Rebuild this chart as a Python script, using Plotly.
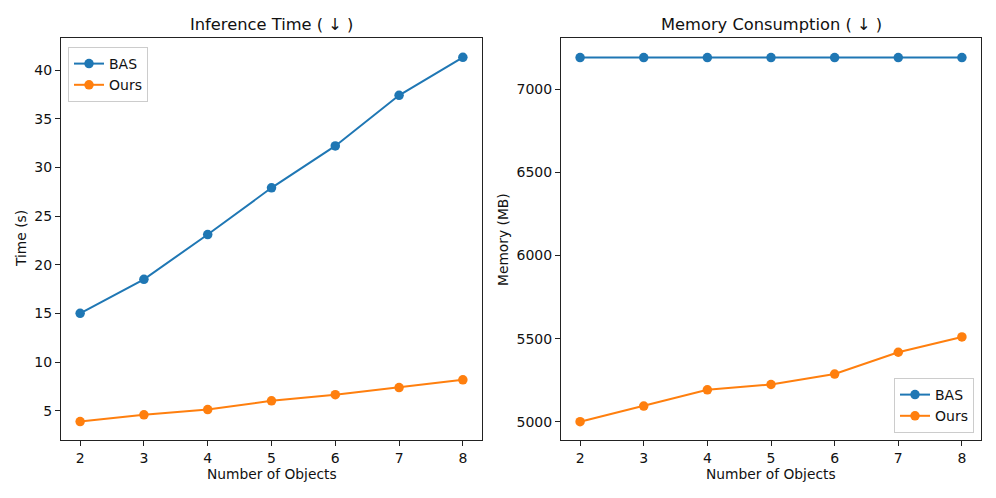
import plotly.graph_objects as go
from plotly.subplots import make_subplots

objects = [2, 3, 4, 5, 6, 7, 8]
time_bas = [15.0, 18.5, 23.1, 27.9, 32.2, 37.4, 41.3]
time_ours = [3.88, 4.58, 5.12, 6.02, 6.65, 7.38, 8.17]
mem_bas = [7191, 7191, 7191, 7191, 7191, 7191, 7191]
mem_ours = [5000, 5094, 5192, 5224, 5287, 5418, 5510]

BLUE = "#1f77b4"
ORANGE = "#ff7f0e"
FONT = "DejaVu Sans, sans-serif"
W, H = 996, 498

fig = make_subplots(rows=1, cols=2)

def add(x, y, name, color, col, legend):
    fig.add_trace(go.Scatter(
        x=x, y=y, name=name, mode="lines+markers",
        line=dict(color=color, width=2),
        marker=dict(color=color, size=9.5),
        legend=legend,
    ), row=1, col=col)

add(objects, time_bas, "BAS", BLUE, 1, "legend")
add(objects, time_ours, "Ours", ORANGE, 1, "legend")
add(objects, mem_bas, "BAS", BLUE, 2, "legend2")
add(objects, mem_ours, "Ours", ORANGE, 2, "legend2")

def px_x(p):
    return p / W

def px_y(p):
    return 1 - p / H

axis_common = dict(
    showline=True, linecolor="#222222", linewidth=1, mirror=True,
    ticks="outside", ticklen=5, tickwidth=1, tickcolor="#222222",
    showgrid=False, zeroline=False, automargin=False,
    tickfont=dict(family=FONT, size=14, color="#111111"),
)

fig.update_xaxes(**axis_common, tickmode="array", tickvals=objects,
                 range=[1.7, 8.3])
fig.update_xaxes(domain=[px_x(61), px_x(482)], row=1, col=1)
fig.update_xaxes(domain=[px_x(561), px_x(981)], row=1, col=2)
fig.update_yaxes(**axis_common)
fig.update_yaxes(domain=[px_y(440), px_y(38)])
fig.update_yaxes(range=[1.99, 43.29], tickvals=[5, 10, 15, 20, 25, 30, 35, 40], row=1, col=1)
fig.update_yaxes(range=[4890, 7309], tickvals=[5000, 5500, 6000, 6500, 7000], row=1, col=2)

annotations = [
    dict(text="Inference Time ( ↓ )", x=px_x(271.5), y=px_y(24), size=16.3),
    dict(text="Memory Consumption ( ↓ )", x=px_x(771), y=px_y(24), size=16.3),
    dict(text="Number of Objects", x=px_x(271.5), y=px_y(474), size=13.8),
    dict(text="Number of Objects", x=px_x(771), y=px_y(474), size=13.8),
    dict(text="Time (s)", x=px_x(21), y=px_y(239), size=13.8, angle=-90),
    dict(text="Memory (MB)", x=px_x(503), y=px_y(239), size=13.8, angle=-90),
]
for a in annotations:
    fig.add_annotation(
        text=a["text"], x=a["x"], y=a["y"], xref="paper", yref="paper",
        xanchor="center", yanchor="middle", showarrow=False,
        textangle=a.get("angle", 0),
        font=dict(family=FONT, size=a["size"], color="#111111"),
    )

legend_common = dict(
    bgcolor="rgba(255,255,255,0.8)", bordercolor="#cccccc", borderwidth=1,
    font=dict(family=FONT, size=14, color="#111111"),
    itemwidth=30, tracegroupgap=0,
)

fig.update_layout(
    width=W, height=H,
    margin=dict(l=0, r=0, t=0, b=0, autoexpand=False),
    paper_bgcolor="white", plot_bgcolor="white",
    font=dict(family=FONT, size=14, color="#111111"),
    legend=dict(**legend_common, x=px_x(68), y=px_y(47), xanchor="left", yanchor="top"),
    legend2=dict(**legend_common, x=px_x(974), y=px_y(433), xanchor="right", yanchor="bottom"),
)

fig.write_html("out.html", config={"displayModeBar": False},
               post_script="document.body.style.margin='0';")
